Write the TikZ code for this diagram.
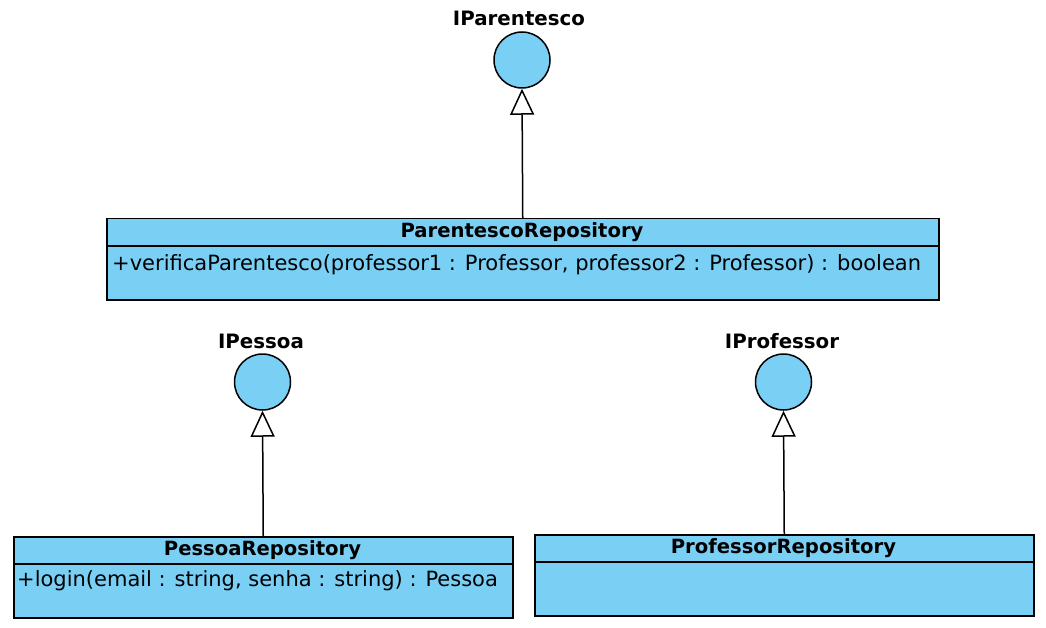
\documentclass[tikz,border=0pt]{standalone}
\usepackage{fontspec}
\setmainfont{DejaVu Sans}
\usetikzlibrary{arrows.meta}
\definecolor{umlblue}{RGB}{122,207,245}
\begin{document}
\begin{tikzpicture}[x=1pt,y=-1pt,
  iface/.style={circle,draw=black,fill=umlblue,line width=1.5pt,minimum size=56pt,inner sep=0pt},
  ilabel/.style={font=\fontsize{19.8}{22}\selectfont\bfseries,inner sep=0pt},
  classbox/.style={draw=black,fill=umlblue,line width=1.5pt,inner sep=0pt,anchor=north west},
  ctitle/.style={font=\fontsize{19.6}{22}\selectfont\bfseries,inner sep=0pt},
  cmethod/.style={font=\fontsize{21}{24}\selectfont,inner sep=0pt,anchor=west},
  realize/.style={line width=1.5pt,-{Triangle[open,length=26pt,width=24pt,line width=1.5pt]}}
]
\useasboundingbox (0,0) rectangle (1046,628);

% IParentesco
\node[iface] (ipar) at (522,60) {};
\node[ilabel] (iparl) at (519,18) {IParentesco};
\node[classbox,minimum width=832pt,minimum height=81pt] (prep) at (106,218) {};
\draw[line width=1.5pt] (106,246) -- (938,246);
\node[ctitle] (prept) at (522,232) {ParentescoRepository};
\node[cmethod] (prepm) at (112,265) {+verificaParentesco(professor1 : Professor, professor2 : Professor) : boolean};
\draw[realize] (prep.north) -- (ipar.south);

% IPessoa
\node[iface] (ipes) at (262.5,382) {};
\node[ilabel] (ipesl) at (261,341) {IPessoa};
\node[classbox,minimum width=499pt,minimum height=81pt] (pesrep) at (13,536) {};
\draw[line width=1.5pt] (13,564) -- (512,564);
\node[ctitle] (pesrept) at (262.5,550) {PessoaRepository};
\node[cmethod] (pesrepm) at (17,581) {+login(email : string, senha : string) : Pessoa};
\draw[realize] (pesrep.north) -- (ipes.south);

% IProfessor
\node[iface] (iprof) at (783.5,382) {};
\node[ilabel] (iprofl) at (782,341) {IProfessor};
\node[classbox,minimum width=499pt,minimum height=81pt] (profrep) at (534,534) {};
\draw[line width=1.5pt] (534,562) -- (1033,562);
\node[ctitle] (profrept) at (783.5,548) {ProfessorRepository};
\draw[realize] (profrep.north) -- (iprof.south);
\end{tikzpicture}
\end{document}
